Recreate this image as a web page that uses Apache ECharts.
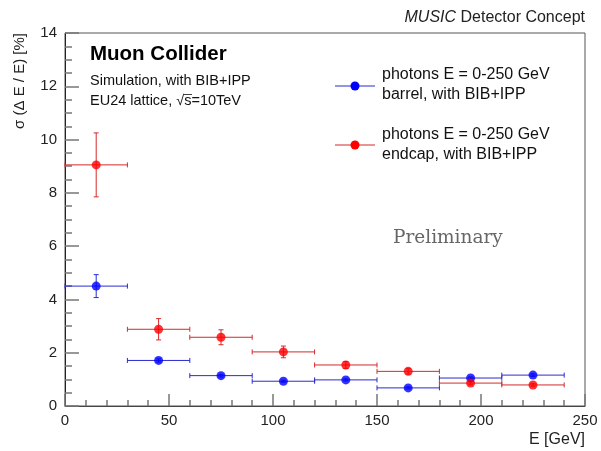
<!DOCTYPE html>
<html><head><meta charset="utf-8">
<script src="https://cdn.jsdelivr.net/npm/echarts@6/dist/echarts.min.js"></script>
<style>html,body{margin:0;padding:0;background:#fff}#c{width:601px;height:451px}</style>
</head><body><div id="c"></div>
<script>
// Data
var binCenters   = [15, 45, 75, 105, 135, 165, 195, 225];
var binHalfWidth = [15, 15, 15, 15, 15, 15, 15, 15];
var barrelValues = [4.50, 1.71, 1.14, 0.93, 0.98, 0.68, 1.05, 1.16];
var barrelErrors = [0.43, 0.06, 0.05, 0.04, 0.04, 0.04, 0.04, 0.05];
var endcapValues = [9.05, 2.88, 2.58, 2.03, 1.54, 1.30, 0.86, 0.79];
var endcapErrors = [1.20, 0.40, 0.28, 0.22, 0.13, 0.10, 0.06, 0.05];
var xTicks = [0, 50, 100, 150, 200, 250];
var yTicks = [0, 2, 4, 6, 8, 10, 12, 14];

function rows(vals, errs){
  return binCenters.map(function(x,i){ return [x, vals[i], binHalfWidth[i], errs[i]]; });
}
function errRenderer(color){
  return function(params, api){
    var x=api.value(0), y=api.value(1), xe=api.value(2), ye=api.value(3);
    var l=api.coord([x-xe,y]), r=api.coord([x+xe,y]), t=api.coord([x,y+ye]), b=api.coord([x,y-ye]);
    var st={stroke:color, lineWidth:1};
    var cap=2.5;
    function ln(x1,y1,x2,y2){return {type:'line',shape:{x1:x1,y1:y1,x2:x2,y2:y2},style:st};}
    return {type:'group',children:[
      ln(l[0],l[1],r[0],r[1]),
      ln(t[0],t[1],b[0],b[1]),
      ln(l[0],l[1]-cap,l[0],l[1]+cap),
      ln(r[0],r[1]-cap,r[0],r[1]+cap),
      ln(t[0]-cap,t[1],t[0]+cap,t[1]),
      ln(b[0]-cap,b[1],b[0]+cap,b[1])
    ]};
  };
}
var FONT='"Liberation Sans", Arial, sans-serif';
var chart=echarts.init(document.getElementById('c'),null,{renderer:'canvas'});
var blueLine='#2a2ad0', blueDot='#0000ff', redLine='#d42a2a', redDot='#ff0000';
chart.setOption({
  animation:false,
  backgroundColor:'#fff',
  grid:{left:65,right:16,top:33,bottom:45,show:true,borderColor:'#555',borderWidth:1,backgroundColor:'transparent',outerBoundsMode:'none',containLabel:false},
  xAxis:{type:'value',min:xTicks[0],max:xTicks[xTicks.length-1],interval:50,
    axisLine:{show:true,lineStyle:{color:'#444'}},
    axisTick:{show:true,inside:true,length:12,lineStyle:{color:'#777',width:1.5}},
    minorTick:{show:true,splitNumber:5,length:6,lineStyle:{color:'#777',width:1.5}},
    splitLine:{show:false},
    axisLabel:{color:'#222',fontFamily:FONT,fontSize:15,margin:7}},
  yAxis:{type:'value',min:yTicks[0],max:yTicks[yTicks.length-1],interval:2,
    axisLine:{show:true,lineStyle:{color:'#222'}},
    axisTick:{show:true,inside:true,length:14,lineStyle:{color:'#777',width:1.5}},
    minorTick:{show:true,splitNumber:4,length:7,lineStyle:{color:'#777',width:1.5}},
    splitLine:{show:false},
    axisLabel:{color:'#222',fontFamily:FONT,fontSize:15,margin:8}},
  series:[
    {type:'custom',name:'barrel',renderItem:errRenderer(blueLine),data:rows(barrelValues,barrelErrors),z:2,clip:false},
    {type:'scatter',data:rows(barrelValues,barrelErrors).map(function(r){return [r[0],r[1]];}),symbol:'circle',symbolSize:9,itemStyle:{color:blueDot},z:3},
    {type:'custom',name:'endcap',renderItem:errRenderer(redLine),data:rows(endcapValues,endcapErrors),z:2,clip:false},
    {type:'scatter',data:rows(endcapValues,endcapErrors).map(function(r){return [r[0],r[1]];}),symbol:'circle',symbolSize:9,itemStyle:{color:redDot},z:3}
  ],
  graphic:[
    {type:'text',x:585,y:18,style:{text:'{i|MUSIC} Detector Concept',rich:{i:{fontStyle:'italic',fontFamily:FONT,fontSize:16,fill:'#222'}},fontFamily:FONT,fontSize:16,fill:'#222',align:'right',verticalAlign:'middle'}},
    {type:'text',x:90,y:54,style:{text:'Muon Collider',fontFamily:FONT,fontWeight:'bold',fontSize:20.5,fill:'#000',verticalAlign:'middle'}},
    {type:'text',x:90,y:81,style:{text:'Simulation, with BIB+IPP',fontFamily:FONT,fontSize:14.5,fill:'#111',verticalAlign:'middle'}},
    {type:'text',x:90,y:101,style:{text:'EU24 lattice, \u221As=10TeV',fontFamily:FONT,fontSize:14.5,fill:'#111',verticalAlign:'middle'}},
    {type:'line',shape:{x1:184,y1:94.5,x2:192,y2:94.5},style:{stroke:'#111',lineWidth:0.8}},
    // legend
    {type:'line',shape:{x1:335,y1:86,x2:375,y2:86},style:{stroke:blueLine,lineWidth:1}},
    {type:'circle',shape:{cx:355,cy:86,r:4.5},style:{fill:blueDot}},
    {type:'text',x:382,y:75,style:{text:'photons E = 0-250 GeV',fontFamily:FONT,fontSize:16,fill:'#111',verticalAlign:'middle'}},
    {type:'text',x:382,y:95,style:{text:'barrel, with BIB+IPP',fontFamily:FONT,fontSize:16,fill:'#111',verticalAlign:'middle'}},
    {type:'line',shape:{x1:335,y1:145,x2:375,y2:145},style:{stroke:redLine,lineWidth:1}},
    {type:'circle',shape:{cx:355,cy:145,r:4.5},style:{fill:redDot}},
    {type:'text',x:382,y:135,style:{text:'photons E = 0-250 GeV',fontFamily:FONT,fontSize:16,fill:'#111',verticalAlign:'middle'}},
    {type:'text',x:382,y:155,style:{text:'endcap, with BIB+IPP',fontFamily:FONT,fontSize:16,fill:'#111',verticalAlign:'middle'}},
    {type:'text',x:393,y:238,style:{text:'Preliminary',fontFamily:'"DejaVu Serif", serif',fontSize:18.5,fill:'#666',verticalAlign:'middle'}},
    {type:'text',x:585,y:440,style:{text:'E [GeV]',fontFamily:FONT,fontSize:16,fill:'#222',align:'right',verticalAlign:'middle'}},
    {type:'text',x:20,y:33,rotation:Math.PI/2,style:{text:'\u03C3 (\u0394 E / E) [%]',fontFamily:FONT,fontSize:15,fill:'#222',align:'right',verticalAlign:'middle'}}
  ]
});
</script></body></html>
